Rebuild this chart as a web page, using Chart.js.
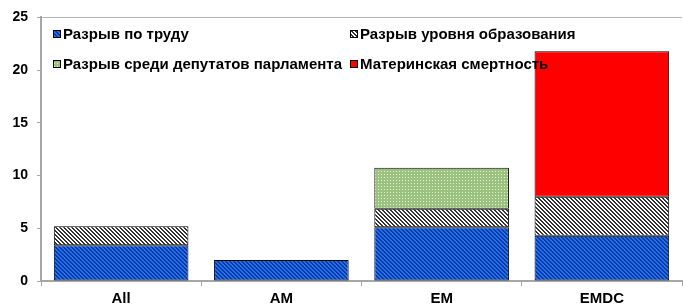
<!DOCTYPE html>
<html>
<head>
<meta charset="utf-8">
<script src="https://cdn.jsdelivr.net/npm/chart.js@4"></script>
<style>
  html, body { margin: 0; padding: 0; background: #fff; }
  #wrap { width: 683px; height: 304px; }
</style>
</head>
<body>
<div id="wrap"><canvas id="gapChart" width="683" height="304"></canvas></div>
<script>
// Data
const categories = ["All", "AM", "EM", "EMDC"];
const laborGap = [3.4, 2.0, 5.1, 4.3];
const educationGap = [1.8, null, 1.75, 3.7];
const parliamentGap = [null, null, 3.9, null];
const maternalMortality = [null, null, null, 13.8];
const seriesNames = [
    "Разрыв по труду",
    "Разрыв уровня образования",
    "Разрыв среди депутатов парламента",
    "Материнская смертность"
];
const yTicks = [0, 5, 10, 15, 20, 25];

// small tiles for the hatch fills
function makePattern(size, painter) {
    const c = document.createElement("canvas");
    c.width = size;
    c.height = size;
    painter(c.getContext("2d"), size);
    return c.getContext("2d").createPattern(c, "repeat");
}

const bluePattern = makePattern(4, (g, n) => {
    g.fillStyle = "#2270ea";
    g.fillRect(0, 0, n, n);
    g.fillStyle = "#0a3aa8";
    for (let x = 0; x < n; x++) {
        for (let y = 0; y < n; y++) {
            if (((x - y) % 4 + 4) % 4 < 2) g.fillRect(x, y, 1, 1);
        }
    }
});

const grayPattern = makePattern(4, (g, n) => {
    g.fillStyle = "#ffffff";
    g.fillRect(0, 0, n, n);
    g.fillStyle = "#333333";
    for (let x = 0; x < n; x++) {
        for (let y = 0; y < n; y++) {
            if (((x - y) % 4 + 4) % 4 < 2) g.fillRect(x, y, 1, 1);
        }
    }
});

const greenPattern = makePattern(3, (g, n) => {
    g.fillStyle = "#9cc27f";
    g.fillRect(0, 0, n, n);
    g.fillStyle = "#e4f1d8";
    g.fillRect(0, 0, 1, 1);
});

const fills = [bluePattern, grayPattern, greenPattern, "#ff0000"];
const seriesData = [laborGap, educationGap, parliamentGap, maternalMortality];

// legend drawn on top of the bars, two columns like the original
const legendSpots = [
    { x: 53, y: 34 },
    { x: 350, y: 34 },
    { x: 53, y: 64 },
    { x: 350, y: 64 }
];

const legendPlugin = {
    id: "gridLegend",
    afterDraw(chart) {
        const ctx = chart.ctx;
        ctx.save();
        ctx.font = "bold 15px Arial, 'Liberation Sans', sans-serif";
        ctx.textBaseline = "middle";
        legendSpots.forEach((p, i) => {
            ctx.fillStyle = fills[i];
            ctx.fillRect(p.x, p.y - 4, 8, 8);
            ctx.strokeStyle = "#000";
            ctx.lineWidth = 1;
            ctx.strokeRect(p.x + 0.5, p.y - 3.5, 7, 7);
            ctx.fillStyle = "#000";
            ctx.fillText(seriesNames[i], p.x + 10, p.y + 1);
        });
        ctx.restore();
    }
};

const ctx = document.getElementById("gapChart");
new Chart(ctx, {
    type: "bar",
    data: {
        labels: categories,
        datasets: seriesData.map((d, i) => ({
            label: seriesNames[i],
            data: d,
            backgroundColor: fills[i],
            borderColor: "#000",
            borderWidth: 1,
            borderSkipped: false,
            categoryPercentage: 1.0,
            barPercentage: 0.84
        }))
    },
    options: {
        responsive: false,
        animation: false,
        devicePixelRatio: 1,
        layout: { padding: { top: 15, right: 1, bottom: 0, left: 0 } },
        plugins: {
            legend: { display: false },
            tooltip: { enabled: false }
        },
        scales: {
            x: {
                stacked: true,
                afterFit: (s) => { s.height = 23; },
                grid: {
                    drawOnChartArea: false,
                    tickLength: 5,
                    color: "#a6a6a6"
                },
                border: { color: "#a6a6a6", width: 2 },
                ticks: {
                    color: "#000",
                    padding: 4,
                    font: { family: "Arial, 'Liberation Sans', sans-serif", size: 15, weight: "bold" }
                }
            },
            y: {
                stacked: true,
                min: 0,
                max: 25,
                afterFit: (s) => { s.width = 41; },
                afterBuildTicks: (s) => { s.ticks = yTicks.map(v => ({ value: v })); },
                grid: {
                    color: (c) => (c.tick && c.tick.value === 25 ? "#b4b4b4" : "rgba(0,0,0,0)"),
                    tickColor: "#a6a6a6",
                    tickLength: 4
                },
                border: { color: "#a6a6a6", width: 2 },
                ticks: {
                    color: "#000",
                    padding: 9,
                    font: { family: "Arial, 'Liberation Sans', sans-serif", size: 14, weight: "bold" }
                }
            }
        }
    },
    plugins: [legendPlugin]
});
</script>
</body>
</html>
